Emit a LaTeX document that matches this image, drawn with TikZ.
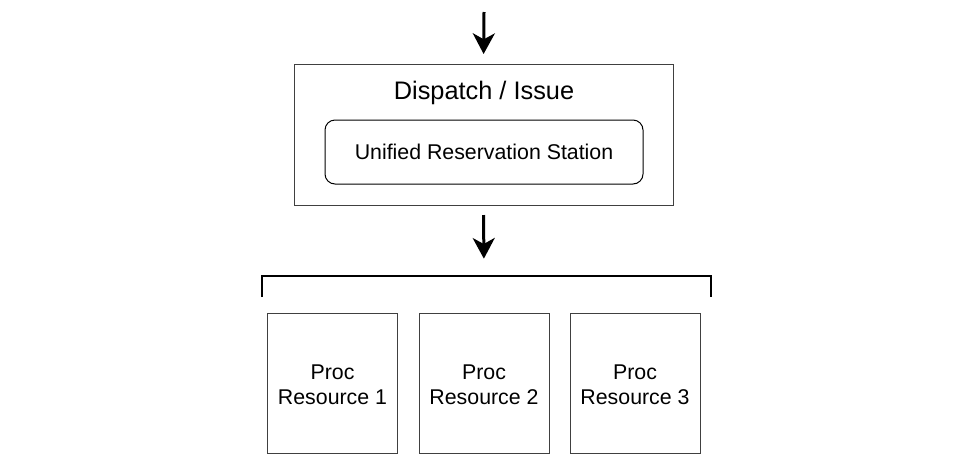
\documentclass[tikz,border=0pt]{standalone}
\usepackage{fontspec}
\setmainfont{Liberation Sans}
\usetikzlibrary{arrows.meta}
\begin{document}
\begin{tikzpicture}[x=0.75pt,y=-0.75pt,
  box/.style={draw=black!75, line width=0.75pt, inner sep=0pt, outer sep=0pt},
  outerbox/.style={box, minimum width=284.25pt, minimum height=105.75pt},
  innerbox/.style={draw=black, line width=0.75pt, rounded corners=7.5pt, inner sep=0pt, outer sep=0pt,
    minimum width=238.5pt, minimum height=48pt, font=\fontsize{16}{19}\selectfont},
  procbox/.style={box, minimum width=97.5pt, minimum height=105pt, align=center,
    font=\fontsize{16}{18.75}\selectfont},
  proctext/.style={inner sep=0pt, align=center, font=\fontsize{16}{18.75}\selectfont},
  titletext/.style={inner sep=0pt, font=\fontsize{19}{22}\selectfont},
  arr/.style={line width=2.25pt, -{Stealth[length=15.5pt, width=16.5pt, inset=4.5pt]}},
  bracketline/.style={line width=1.5pt}
]
\useasboundingbox (0,0) rectangle (973,465);
\node[outerbox] (dispatch) at (483.5,134.5) {};
\node[titletext] (title) at (484,92.5) {Dispatch / Issue};
\node[innerbox] (urs) at (484,152) {Unified Reservation Station};
\coordinate (in) at (484,12);
\draw[arr, shorten >=7.5pt] (in) -- (dispatch.north);
\coordinate (bm) at (484,276);
\coordinate (bl) at (262,276);
\coordinate (br) at (711,276);
\coordinate (bld) at (262,297);
\coordinate (brd) at (711,297);
\draw[arr, shorten <=7.5pt, shorten >=13pt] (dispatch.south) -- (bm);
\draw[bracketline] (bld) -- (bl) -- (br) -- (brd);
\node[procbox] (p1) at (332.5,383) {};
\node[procbox] (p2) at (484,383) {};
\node[procbox] (p3) at (635,383) {};
\node[proctext] (t1) at (332.5,385) {Proc\\Resource 1};
\node[proctext] (t2) at (484,385) {Proc\\Resource 2};
\node[proctext] (t3) at (635,385) {Proc\\Resource 3};
\end{tikzpicture}
\end{document}
